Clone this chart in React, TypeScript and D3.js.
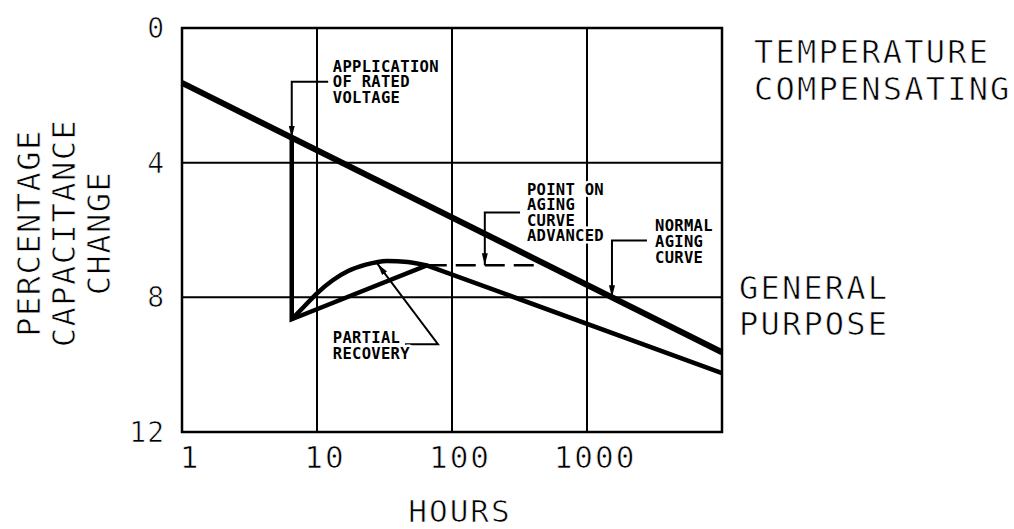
import React from 'react';
import * as d3 from 'd3';

// axis ticks
const xTicks = [1, 10, 100, 1000];
const yTicks = [0, 4, 8, 12];
const yTitle = ['PERCENTAGE', 'CAPACITANCE', 'CHANGE'];

// normal aging curve (temperature compensating)
const agingHours = [1, 10000];
const agingPct = [1.63, 9.63];

// general purpose: drop at rated voltage, then aging
const generalHours = [6.5, 6.5, 65, 10000];
const generalPct = [3.26, 8.65, 7.05, 10.25];

// partial recovery arc
const recoveryHours = [6.5, 8, 10, 13, 17, 23, 33, 47, 65];
const recoveryPct = [8.65, 8.28, 7.88, 7.5, 7.22, 7.03, 6.92, 6.95, 7.05];

// point on aging curve advanced (dashed)
const advancedHours = [65, 430];
const advancedPct = [7.05, 7.05];

// callouts: text anchor + leader path, in hours / percent
const notes = [
  { lines: ['APPLICATION', 'OF RATED', 'VOLTAGE'], at: [13.1, 1.3], leader: [[12.1, 1.6], [6.5, 1.6], [6.5, 3.26]] },
  { lines: ['PARTIAL', 'RECOVERY'], at: [13.1, 9.36], leader: [[44.9, 9.39], [78.7, 9.39], [28, 7.0]] },
  { lines: ['POINT ON', 'AGING', 'CURVE', 'ADVANCED'], at: [359, 4.95], leader: [[319, 5.48], [175, 5.48], [175, 7.05]] },
  { lines: ['NORMAL', 'AGING', 'CURVE'], at: [3190, 6.04], leader: [[2781, 6.31], [1531, 6.31], [1531, 8.0]] },
];

const W = 1014;
const H = 529;
const margin = { top: 28, right: 292, bottom: 97, left: 182 };

const mono = '"DejaVu Sans Mono", monospace';

export default function App() {
  const x = d3.scaleLog().domain([1, 10000]).range([margin.left, W - margin.right]);
  const y = d3.scaleLinear().domain([0, 12]).range([margin.top, H - margin.bottom]);

  const line = d3.line<[number, number]>().x(d => x(d[0])).y(d => y(d[1]));
  const smooth = d3.line<[number, number]>().x(d => x(d[0])).y(d => y(d[1])).curve(d3.curveMonotoneX);

  const zip = (a: number[], b: number[]) => a.map((v, i) => [v, b[i]] as [number, number]);

  const x0 = x.range()[0];
  const x1 = x.range()[1];
  const y0 = y.range()[0];
  const y1 = y.range()[1];

  // thin plotter-style lettering
  const thin = { stroke: '#fff', strokeWidth: 0.7 };

  return (
    <svg width={W} height={H} style={{ position: 'absolute', left: 0, top: 0, background: '#fff' }}>
      <defs>
        <marker id="arr" markerUnits="userSpaceOnUse" viewBox="0 -4 13 8" refX={12} refY={0}
          markerWidth={13} markerHeight={8} orient="auto">
          <path d="M0,-3L12,0L0,3Z" fill="#000" />
        </marker>
      </defs>

      {/* grid */}
      <g stroke="#000" strokeWidth={2}>
        {xTicks.slice(1).map(t => (
          <line key={'gx' + t} x1={x(t)} x2={x(t)} y1={y0} y2={y1} />
        ))}
        {yTicks.slice(1, -1).map(t => (
          <line key={'gy' + t} x1={x0} x2={x1} y1={y(t)} y2={y(t)} />
        ))}
      </g>
      <rect x={x0} y={y0} width={x1 - x0} height={y1 - y0} fill="none" stroke="#000" strokeWidth={2.5} />

      {/* tick labels */}
      <g fontFamily={mono} fontSize={28} fill="#000" {...thin}>
        {yTicks.map(t => (
          <text key={'ty' + t} x={x0 - 17} y={y(t) + 10} textAnchor="end" letterSpacing={1}>{t}</text>
        ))}
      </g>
      <g fontFamily={mono} fontSize={31} fill="#000" {...thin}>
        {xTicks.map(t => (
          <text key={'tx' + t} x={x(t) + 8} y={468} textAnchor="middle" letterSpacing={2}>{t}</text>
        ))}
        <text x={460} y={522} textAnchor="middle" letterSpacing={2}>HOURS</text>
      </g>

      {/* axis title */}
      <g fontFamily={mono} fontSize={32} fill="#000" letterSpacing={1.5} {...thin}>
        {yTitle.map((s, i) => (
          <text key={s} transform={`translate(${40 + i * 35},233) rotate(-90)`} textAnchor="middle">{s}</text>
        ))}
      </g>

      {/* side labels */}
      <g fontFamily={mono} fontSize={32} fill="#000" letterSpacing={2.2} {...thin}>
        <text x={754} y={63}>TEMPERATURE</text>
        <text x={754} y={100}>COMPENSATING</text>
        <text x={739} y={299}>GENERAL</text>
        <text x={739} y={335}>PURPOSE</text>
      </g>

      {/* curves */}
      <path d={line(zip(agingHours, agingPct)) || ''} fill="none" stroke="#000" strokeWidth={6} />
      <path d={line(zip(generalHours, generalPct)) || ''} fill="none" stroke="#000" strokeWidth={4.5} strokeLinejoin="miter" />
      <path d={smooth(zip(recoveryHours, recoveryPct)) || ''} fill="none" stroke="#000" strokeWidth={4.5} />
      <path d={line(zip(advancedHours, advancedPct)) || ''} fill="none" stroke="#000" strokeWidth={2.5} strokeDasharray="20 9" />

      {/* callouts */}
      {notes.map((n, i) => (
        <g key={i}>
          <path d={line(n.leader as [number, number][]) || ''} fill="none" stroke="#000" strokeWidth={2} markerEnd="url(#arr)" />
          <text fontFamily={mono} fontWeight="bold" fontSize={15.5} letterSpacing={0.3} fill="#000"
            stroke="#fff" strokeWidth={5} style={{ paintOrder: 'stroke' }} strokeLinejoin="round">
            {n.lines.map((s, j) => (
              <tspan key={j} x={x(n.at[0])} y={y(n.at[1]) + j * 15.6}>{s}</tspan>
            ))}
          </text>
        </g>
      ))}
    </svg>
  );
}
